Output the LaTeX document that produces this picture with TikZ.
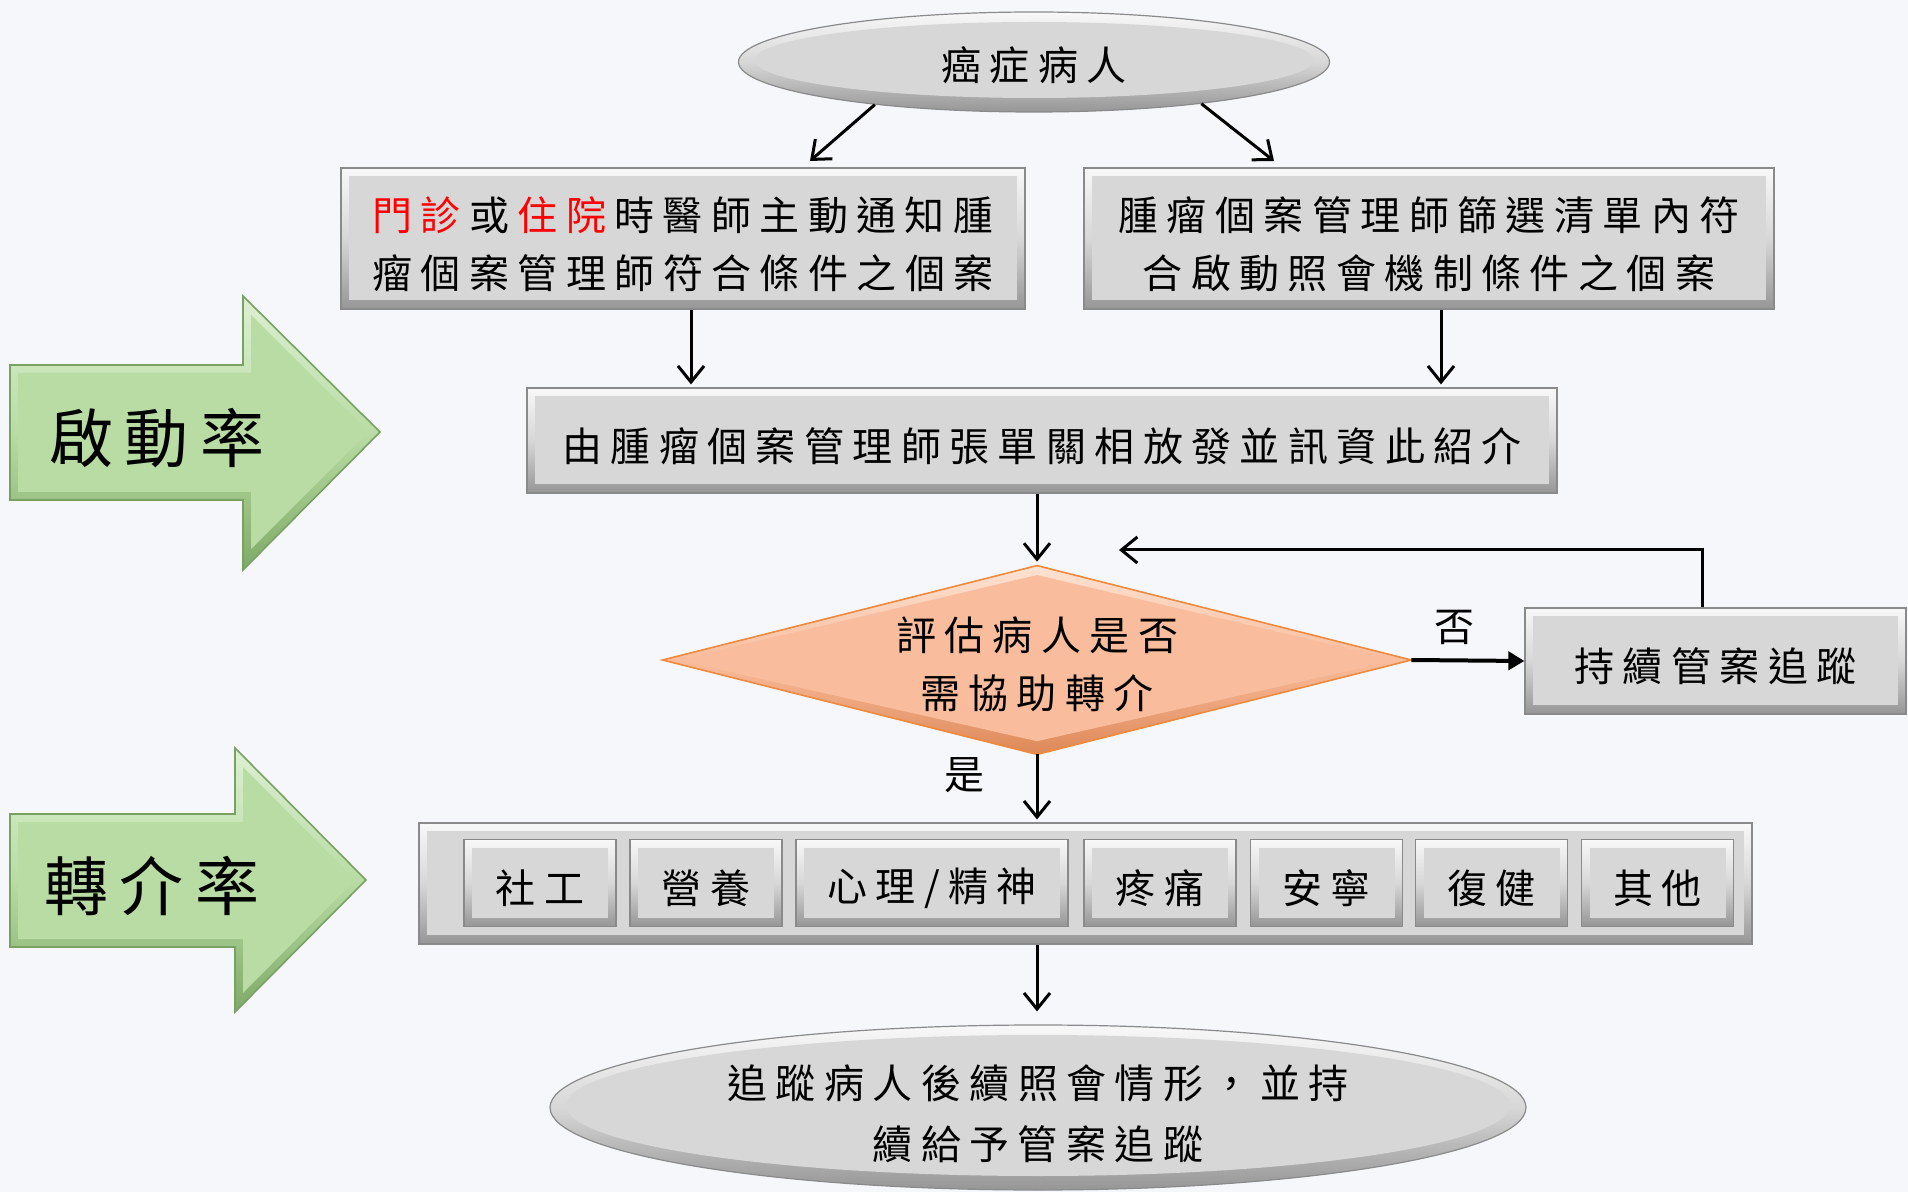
\documentclass[tikz,border=0pt]{standalone}
\usepackage{fontspec}
\newfontfamily\cjk{Noto Sans CJK TC}[LetterSpace=21]
\newfontfamily\cjkbig{Noto Sans CJK TC}[LetterSpace=18]
\newcommand\fstrut{\rule{0pt}{23pt}}
\usetikzlibrary{arrows.meta,shapes.geometric,calc}
\definecolor{bg}{HTML}{F5F7FB}
\definecolor{bvtop}{HTML}{F8F8F8}
\definecolor{bvmid}{HTML}{D7D7D7}
\definecolor{bvbot}{HTML}{969696}
\definecolor{edgegray}{HTML}{8A8A8A}
\definecolor{dtop}{HTML}{FDE2D2}
\definecolor{dmid}{HTML}{F9BD9D}
\definecolor{dbot}{HTML}{DE8857}
\definecolor{dedge}{HTML}{EE8A3E}
\definecolor{gtop}{HTML}{DDF0D2}
\definecolor{gmid}{HTML}{B8DCA4}
\definecolor{gbot}{HTML}{7FAA66}
\definecolor{gedge}{HTML}{7AA164}
\definecolor{redtxt}{HTML}{FF0000}
\begin{document}
\begin{tikzpicture}[x=0.5pt,y=-0.5pt,
  txt/.style={font=\cjk\fontsize{20pt}{29pt}\selectfont, align=center, text=black},
  boxtxt/.style={txt, execute at begin node={\rule{0pt}{22.5pt}}},
  elltxt/.style={txt, execute at begin node={\rule{0pt}{20pt}}},
  bigtxt/.style={font=\cjkbig\fontsize{32pt}{36pt}\selectfont, text=black},
  bevelbox/.style={draw=edgegray, line width=0.6pt, top color=bvtop, bottom color=bvbot, middle color=bvmid, inner sep=0pt,
    path picture={\fill[bvmid] ([shift={(4pt,-4pt)}]path picture bounding box.north west) rectangle ([shift={(-4pt,4.5pt)}]path picture bounding box.south east);}, boxtxt},
  bevelell/.style 2 args={ellipse, minimum width=#1, minimum height=#2, draw=edgegray, line width=0.6pt, top color=bvtop, bottom color=bvbot, middle color=bvmid, inner sep=0pt,
    path picture={\fill[bvmid] ([yshift=1pt]path picture bounding box.center) ellipse [x radius=#1/2-8pt, y radius=#2/2-6pt];}, elltxt},
  arr/.style={line width=1.5pt, -{Straight Barb[length=8pt,width=13pt]}},
  arrf/.style={line width=2pt, -{Triangle[length=8pt,width=9pt]}},
  dshade/.style={draw=dedge, line width=0.8pt, top color=dtop, bottom color=dbot, middle color=dmid},
  gshade/.style={draw=gedge, line width=0.8pt, top color=gtop, bottom color=gbot, middle color=gmid}
]
\useasboundingbox (0,0) rectangle (1908,1192);
\fill[bg] (0,0) rectangle (1908,1192);

% green arrows
\path[gshade] (10,365) -- (243,365) -- (243,296) -- (380,432) -- (243,570) -- (243,500) -- (10,500) -- cycle;
\fill[gmid] (18,373) -- (251,373) -- (251,315) -- (368,432) -- (251,549) -- (251,492) -- (18,492) -- cycle;
\node[bigtxt] (qd) at (157,438) {啟動率};
\path[gshade] (10,814) -- (235,814) -- (235,748) -- (366,880) -- (235,1012) -- (235,947) -- (10,947) -- cycle;
\fill[gmid] (18,822) -- (243,822) -- (243,767) -- (355,880) -- (243,993) -- (243,939) -- (18,939) -- cycle;
\node[bigtxt] (zj) at (152,886) {轉介率};

% nodes
\node[bevelell={295.5pt}{50pt}] (top) at (1034,62) {癌症病人};
\node[bevelbox, minimum width=342pt, minimum height=70.5pt] (b1) at (683,238.5)
  {\fstrut{\color{redtxt}門診}\kern4.2pt 或\kern4.2pt{\color{redtxt}住院}\kern4.2pt 時醫師主動通知腫\\瘤個案管理師符合條件之個案};
\node[bevelbox, minimum width=345pt, minimum height=70.5pt] (b2) at (1429,238.5)
  {\fstrut 腫瘤個案管理師篩選清單內符\\合啟動照會機制條件之個案};
\node[bevelbox, minimum width=515pt, minimum height=52.5pt] (b3) at (1042,440.5)
  {由腫瘤個案管理師張單關相放發並訊資此紹介};

\node[minimum width=374pt, minimum height=94pt, inner sep=0pt] (dia) at (1037,660) {};
\path[dshade] (dia.north) -- (dia.east) -- (dia.south) -- (dia.west) -- cycle;
\fill[dmid] ($(dia.north)!0.1!(dia.center)$) -- ($(dia.east)!0.04!(dia.center)$) -- ($(dia.south)!0.14!(dia.center)$) -- ($(dia.west)!0.04!(dia.center)$) -- cycle;
\node[txt] (diat) at (1037,664) {評估病人是否\\需協助轉介};

\node[bevelbox, minimum width=190.5pt, minimum height=53pt] (b4) at (1715.5,661) {持續管案追蹤};

\node[bevelbox, minimum width=666.5pt, minimum height=60.5pt] (b5) at (1085.5,883.5) {};
\node[bevelbox, minimum width=76pt, minimum height=43.5pt] (s1) at (540,883) {社工};
\node[bevelbox, minimum width=76pt, minimum height=43.5pt] (s2) at (706,883) {營養};
\node[bevelbox, minimum width=136pt, minimum height=43.5pt] (s3) at (932,883) {心理/精神};
\node[bevelbox, minimum width=76pt, minimum height=43.5pt] (s4) at (1160,883) {疼痛};
\node[bevelbox, minimum width=76pt, minimum height=43.5pt] (s5) at (1326.5,883) {安寧};
\node[bevelbox, minimum width=76pt, minimum height=43.5pt] (s6) at (1491.5,883) {復健};
\node[bevelbox, minimum width=76pt, minimum height=43.5pt] (s7) at (1657.5,883) {其他};

\node[bevelell={488pt}{82.5pt}, font=\cjk\fontsize{20pt}{30.5pt}\selectfont] (fin) at (1038,1107.5) {\fstrut 追蹤病人後續照會情形，並持\\續給予管案追蹤};

% connectors
\coordinate (e1) at (810,161);
\coordinate (e2) at (1274,161);
\coordinate (x1) at (691,0);
\coordinate (x2) at (1441,0);
\coordinate (x3) at (1702,0);
\coordinate (lp) at (1119,550);
\draw[arr] (top.195) -- (e1);
\draw[arr] (top.346) -- (e2);
\draw[arr, shorten >=1.5pt] (b1.south -| x1) -- (b3.north -| x1);
\draw[arr, shorten >=1.5pt] (b2.south -| x2) -- (b3.north -| x2);
\draw[arr, shorten >=2pt] (b3.south -| dia.north) -- (dia.north);
\draw[arrf] (dia.east) -- (b4.west);
\node[txt] (no) at (1454,627) {否};
\draw[arr] (b4.north -| x3) |- (lp);
\draw[arr, shorten >=1.5pt] (dia.south) -- (b5.north -| dia.south);
\node[txt] (yes) at (964,775) {是};
\draw[arr, shorten >=6.5pt] (b5.south -| dia.south) -- (fin.north -| dia.south);
\end{tikzpicture}
\end{document}
